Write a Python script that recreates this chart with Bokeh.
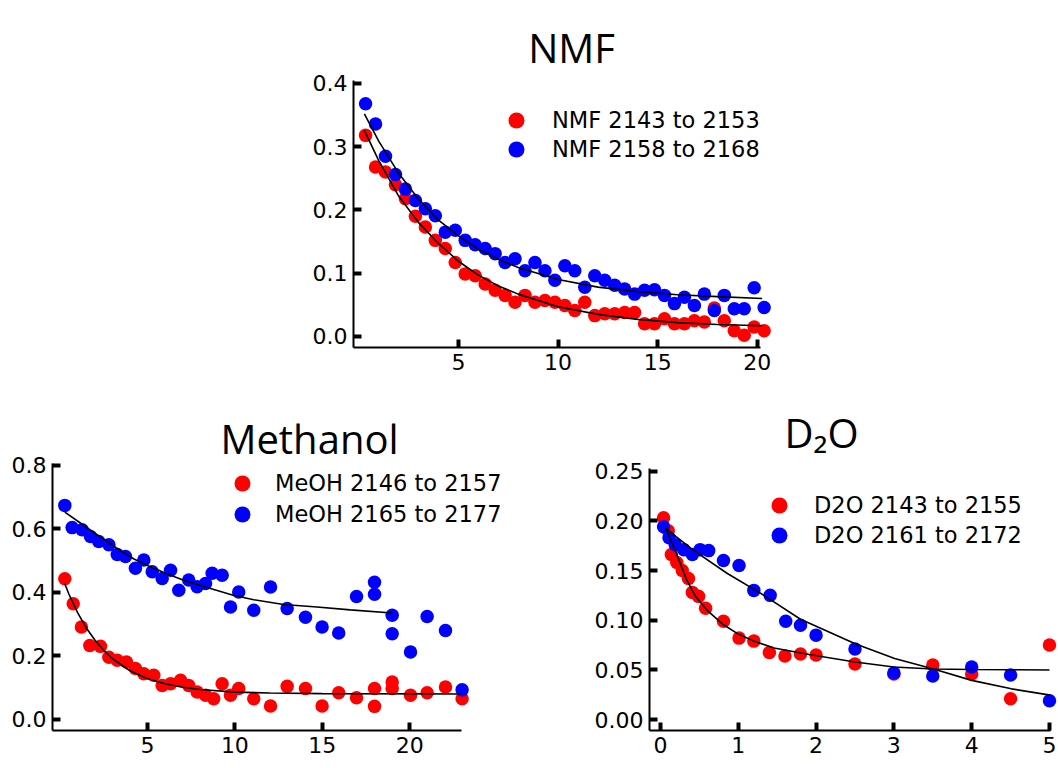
from bokeh.plotting import figure
from bokeh.layouts import column, row
from bokeh.models import Legend, LegendItem, Label, FixedTicker, NumeralTickFormatter, Range1d
from bokeh.embed import file_html
from bokeh.resources import INLINE

# ---------------- data ----------------
# NMF panel
nmf_x = [0.34, 0.84, 1.34, 1.84, 2.34, 2.84, 3.34, 3.84, 4.34, 4.84, 5.34, 5.84, 6.34, 6.84,
         7.34, 7.84, 8.34, 8.84, 9.34, 9.84, 10.34, 10.84, 11.34, 11.84, 12.34, 12.84, 13.34,
         13.84, 14.34, 14.84, 15.34, 15.84, 16.34, 16.84, 17.34, 17.84, 18.34, 18.84, 19.34,
         19.84, 20.34]
nmf_a_y = [0.318, 0.268, 0.26, 0.24, 0.218, 0.19, 0.173, 0.152, 0.139, 0.117, 0.099, 0.096,
           0.083, 0.073, 0.065, 0.054, 0.065, 0.054, 0.057, 0.054, 0.049, 0.041, 0.054, 0.033,
           0.036, 0.036, 0.038, 0.038, 0.020, 0.020, 0.028, 0.020, 0.020, 0.025, 0.023, 0.045,
           0.025, 0.009, 0.002, 0.015, 0.009]
nmf_b_y = [0.368, 0.336, 0.285, 0.256, 0.233, 0.215, 0.202, 0.191, 0.165, 0.168, 0.152, 0.145,
           0.139, 0.131, 0.117, 0.123, 0.104, 0.117, 0.104, 0.089, 0.112, 0.104, 0.078, 0.096,
           0.089, 0.081, 0.075, 0.067, 0.073, 0.074, 0.065, 0.052, 0.062, 0.049, 0.067, 0.041,
           0.065, 0.044, 0.044, 0.077, 0.046]
nmf_fit_x = [0.28, 1, 2, 3, 4, 5, 6, 7, 8, 10, 12, 14, 16, 18, 20.24]
nmf_fit_a = [0.326, 0.278, 0.222, 0.180, 0.147, 0.119, 0.097, 0.080, 0.067, 0.047, 0.035, 0.027, 0.022, 0.019, 0.017]
nmf_fit_b = [0.352, 0.309, 0.258, 0.217, 0.184, 0.159, 0.138, 0.122, 0.109, 0.090, 0.078, 0.071, 0.066, 0.063, 0.060]
nmf_labels = ["NMF 2143 to 2153", "NMF 2158 to 2168"]

# Methanol panel
meoh_a_x = [0.27, 0.75, 1.22, 1.70, 2.31, 2.79, 3.27, 3.80, 4.31, 4.79, 5.36, 5.84, 6.32, 6.89,
            7.36, 7.84, 8.32, 8.79, 9.27, 9.75, 10.22, 11.08, 12.04, 12.99, 14.04, 14.99, 15.94,
            16.96, 17.99, 17.99, 19.0, 19.0, 20.05, 21.0, 22.05, 23.0]
meoh_a_y = [0.443, 0.364, 0.291, 0.233, 0.230, 0.196, 0.186, 0.181, 0.160, 0.144, 0.139, 0.107,
            0.112, 0.123, 0.107, 0.086, 0.076, 0.065, 0.112, 0.076, 0.097, 0.065, 0.042, 0.104,
            0.097, 0.042, 0.084, 0.068, 0.097, 0.041, 0.118, 0.097, 0.076, 0.084, 0.102, 0.065]
meoh_b_x = [0.27, 0.69, 1.26, 1.74, 2.21, 2.79, 3.27, 3.74, 4.31, 4.79, 5.27, 5.84, 6.32, 6.79,
            7.36, 7.84, 8.32, 8.70, 9.27, 9.75, 10.22, 11.08, 12.04, 12.99, 14.04, 14.99, 15.94,
            16.96, 17.99, 17.99, 19.0, 19.0, 20.05, 21.0, 22.05, 23.0]
meoh_b_y = [0.674, 0.604, 0.597, 0.576, 0.560, 0.550, 0.519, 0.513, 0.476, 0.502, 0.465, 0.444,
            0.470, 0.407, 0.439, 0.418, 0.428, 0.460, 0.454, 0.354, 0.401, 0.344, 0.417, 0.349,
            0.322, 0.291, 0.272, 0.387, 0.432, 0.394, 0.328, 0.270, 0.212, 0.324, 0.280, 0.093]
meoh_fit_a_x = [0.27, 0.5, 1, 1.5, 2, 2.5, 3, 4, 5, 6, 7, 8, 10, 12, 15, 23]
meoh_fit_a_y = [0.427, 0.395, 0.336, 0.288, 0.249, 0.217, 0.191, 0.153, 0.128, 0.112, 0.101, 0.094, 0.086, 0.083, 0.081, 0.080]
meoh_fit_b_x = [0.27, 1.2, 2.31, 3.2, 4.2, 5.1, 6.1, 7.0, 8.03, 9.9, 11.08, 12.78, 14.7, 16.6, 19.0]
meoh_fit_b_y = [0.653, 0.617, 0.574, 0.541, 0.506, 0.482, 0.459, 0.440, 0.422, 0.391, 0.377, 0.362, 0.354, 0.345, 0.335]
meoh_labels = ["MeOH 2146 to 2157", "MeOH 2165 to 2177"]

# D2O panel
d2o_a_x = [0.04, 0.10, 0.14, 0.21, 0.28, 0.36, 0.41, 0.49, 0.58, 0.81, 1.01, 1.2, 1.4, 1.6, 1.8,
           2.0, 2.5, 3.0, 3.5, 4.0, 4.5, 5.0]
d2o_a_y = [0.203, 0.190, 0.166, 0.158, 0.150, 0.142, 0.128, 0.124, 0.112, 0.099, 0.082, 0.079,
           0.0675, 0.064, 0.066, 0.065, 0.056, 0.046, 0.055, 0.046, 0.021, 0.075]
d2o_b_x = [0.04, 0.11, 0.19, 0.30, 0.41, 0.51, 0.62, 0.81, 1.01, 1.2, 1.41, 1.61, 1.8, 2.0, 2.5,
           3.0, 3.5, 4.0, 4.5, 5.0]
d2o_b_y = [0.194, 0.183, 0.176, 0.171, 0.166, 0.171, 0.170, 0.160, 0.155, 0.130, 0.125, 0.099,
           0.095, 0.085, 0.071, 0.047, 0.044, 0.053, 0.045, 0.019]
d2o_fit_a_x = [0.064, 0.2, 0.34, 0.45, 0.6, 0.8, 0.98, 1.2, 1.46, 1.91, 2.5, 3.0, 3.5, 4.0, 5.0]
d2o_fit_a_y = [0.193, 0.168, 0.140, 0.124, 0.110, 0.096, 0.087, 0.079, 0.072, 0.0655, 0.058, 0.053, 0.051, 0.0505, 0.050]
d2o_fit_b_x = [0.064, 0.2, 0.43, 0.86, 1.29, 1.8, 2.51, 3.01, 3.51, 4.0, 4.51, 5.01]
d2o_fit_b_y = [0.193, 0.184, 0.170, 0.147, 0.127, 0.101, 0.076, 0.0616, 0.051, 0.0395, 0.031, 0.0247]
d2o_labels = ["D2O 2143 to 2155", "D2O 2161 to 2172"]

titles = ["NMF", "Methanol", "D\u2082O"]

# ---------------- styling ----------------
RED = "#ff0000"
BLUE = "#0000ff"
TICK_FONT = "DejaVu Sans"
TITLE_FONT = "Open Sans"
DOT = 13.5


def make_panel(width, height, borders, xr, yr, xbounds, ybounds, xticks, yticks, yfmt):
    left, right, top, bottom = borders
    p = figure(width=width, height=height, x_range=Range1d(*xr), y_range=Range1d(*yr),
               output_backend="svg", toolbar_location=None,
               min_border_left=left, min_border_right=right,
               min_border_top=top, min_border_bottom=bottom)
    p.xgrid.visible = False
    p.ygrid.visible = False
    p.outline_line_color = None
    p.background_fill_color = "white"
    p.border_fill_color = "white"
    for ax in (p.xaxis[0], p.yaxis[0]):
        ax.axis_line_width = 2
        ax.axis_line_color = "black"
        ax.major_tick_in = 8
        ax.major_tick_out = 0
        ax.major_tick_line_width = 4
        ax.major_tick_line_color = "black"
        ax.minor_tick_line_color = None
        ax.major_label_text_font = TICK_FONT
        ax.major_label_text_font_size = "22px"
        ax.major_label_text_color = "black"
    p.xaxis.bounds = xbounds
    p.yaxis.bounds = ybounds
    p.xaxis.ticker = FixedTicker(ticks=xticks)
    p.yaxis.ticker = FixedTicker(ticks=yticks)
    p.xaxis.formatter = NumeralTickFormatter(format="0")
    p.yaxis.formatter = NumeralTickFormatter(format=yfmt)
    p.xaxis.major_label_standoff = 6
    p.yaxis.major_label_standoff = 6
    return p


def add_series(p, xa, ya, xb, yb, fxa, fya, fxb, fyb, labels, leg_x, leg_y, standoff):
    ra = p.scatter(xa, ya, size=DOT, color=RED, line_color=None)
    rb = p.scatter(xb, yb, size=DOT, color=BLUE, line_color=None)
    p.line(fxa, fya, line_color="black", line_width=1.6)
    p.line(fxb, fyb, line_color="black", line_width=1.6)
    for r, lab, ly in zip((ra, rb), labels, leg_y):
        leg = Legend(items=[LegendItem(label=lab, renderers=[r])], location=(leg_x, ly),
                     glyph_width=40, glyph_height=40, label_height=40, label_standoff=standoff,
                     padding=0, margin=0, spacing=0, border_line_color=None,
                     background_fill_alpha=0, label_text_font=TICK_FONT,
                     label_text_font_size="22.5px", label_text_color="black")
        p.add_layout(leg)


def add_title(p, text, x, y):
    p.add_layout(Label(x=x, y=y, x_units="screen", y_units="screen", text=text,
                       text_font=TITLE_FONT, text_font_size="40px", text_align="center",
                       text_baseline="alphabetic", text_color="black"))


# NMF  (frame: x 353..1053, y 5..347 ; axis lines limited by bounds)
p1 = make_panel(1058, 390, (353, 5, 5, 43), (-0.266, 34.86), (-0.0174, 0.5233),
                (-0.266, 20.15), (-0.0174, 0.4047),
                [5, 10, 15, 20], [0.0, 0.1, 0.2, 0.3, 0.4], "0.0")
add_series(p1, nmf_x, nmf_a_y, nmf_x, nmf_b_y, nmf_fit_x, nmf_fit_a, nmf_fit_x, nmf_fit_b,
           nmf_labels, 143, (207, 178), 16)
add_title(p1, titles[0], 218, 300)

# Methanol (frame: x 52..560, y 395..730)
p2 = make_panel(560, 378, (52, 0, 5, 38), (-0.435, 28.63), (-0.035, 1.0201),
                (-0.435, 22.96), (-0.035, 0.806),
                [5, 10, 15, 20], [0.0, 0.2, 0.4, 0.6, 0.8], "0.0")
add_series(p2, meoh_a_x, meoh_a_y, meoh_b_x, meoh_b_y, meoh_fit_a_x, meoh_fit_a_y,
           meoh_fit_b_x, meoh_fit_b_y, meoh_labels, 170, (227, 196), 13)
add_title(p2, titles[1], 257, 292)

# D2O (frame: x 649..1058, y 395..736)
p3 = make_panel(498, 378, (89, 0, 5, 32), (-0.141, 5.116), (-0.0109, 0.326),
                (-0.141, 5.013), (-0.0109, 0.253),
                [0, 1, 2, 3, 4, 5], [0.0, 0.05, 0.10, 0.15, 0.20, 0.25], "0.00")
add_series(p3, d2o_a_x, d2o_a_y, d2o_b_x, d2o_b_y, d2o_fit_a_x, d2o_fit_a_y,
           d2o_fit_b_x, d2o_fit_b_y, d2o_labels, 110, (205, 175), 15)
add_title(p3, titles[2], 172, 298)

layout = column(p1, row(p2, p3))
open("out.html", "w").write(file_html(layout, INLINE))
